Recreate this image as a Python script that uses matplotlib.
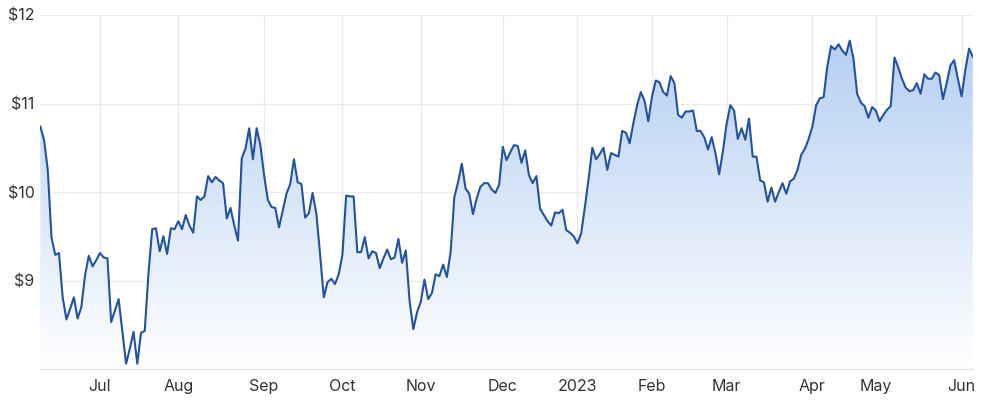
import numpy as np
import matplotlib.pyplot as plt

# daily closing prices (trading days)
prices = [
    10.74, 10.59, 10.25, 9.49, 9.29, 9.31, 8.81, 8.56, 8.68, 8.81,
    8.57, 8.70, 9.06, 9.28, 9.16, 9.23, 9.31, 9.26, 9.25, 8.53,
    8.66, 8.79, 8.43, 8.06, 8.23, 8.42, 8.06, 8.41, 8.43, 9.08,
    9.58, 9.59, 9.33, 9.50, 9.30, 9.59, 9.58, 9.67, 9.58, 9.74,
    9.62, 9.54, 9.95, 9.91, 9.95, 10.18, 10.11, 10.17, 10.13, 10.10,
    9.70, 9.82, 9.62, 9.45, 10.38, 10.49, 10.72, 10.37, 10.72, 10.53,
    10.19, 9.91, 9.83, 9.82, 9.60, 9.79, 9.98, 10.09, 10.37, 10.11,
    10.09, 9.71, 9.76, 9.99, 9.76, 9.30, 8.81, 8.98, 9.02, 8.96,
    9.07, 9.29, 9.96, 9.95, 9.95, 9.32, 9.32, 9.49, 9.25, 9.33,
    9.31, 9.14, 9.25, 9.35, 9.24, 9.26, 9.47, 9.20, 9.34, 8.77,
    8.45, 8.64, 8.76, 9.01, 8.79, 8.86, 9.07, 9.05, 9.18, 9.04,
    9.32, 9.94, 10.11, 10.32, 10.04, 9.98, 9.75, 9.93, 10.06, 10.10,
    10.10, 10.03, 9.99, 10.08, 10.51, 10.36, 10.45, 10.53, 10.52, 10.33,
    10.47, 10.19, 10.10, 10.18, 9.81, 9.74, 9.67, 9.62, 9.77, 9.76,
    9.80, 9.57, 9.54, 9.50, 9.42, 9.53, 9.83, 10.15, 10.50, 10.37,
    10.43, 10.50, 10.25, 10.44, 10.42, 10.40, 10.69, 10.67, 10.55, 10.78,
    10.98, 11.13, 11.03, 10.80, 11.08, 11.26, 11.24, 11.13, 11.09, 11.31,
    11.23, 10.87, 10.84, 10.91, 10.91, 10.92, 10.69, 10.69, 10.62, 10.48,
    10.62, 10.44, 10.20, 10.46, 10.77, 10.98, 10.92, 10.60, 10.72, 10.59,
    10.83, 10.40, 10.40, 10.13, 10.11, 9.89, 10.05, 9.89, 10.00, 10.10,
    9.98, 10.12, 10.15, 10.25, 10.42, 10.49, 10.60, 10.74, 10.98, 11.06,
    11.07, 11.42, 11.65, 11.61, 11.67, 11.60, 11.55, 11.71, 11.51, 11.11,
    11.01, 10.97, 10.84, 10.96, 10.92, 10.80, 10.87, 10.93, 10.97, 11.52,
    11.41, 11.28, 11.18, 11.14, 11.15, 11.23, 11.11, 11.33, 11.28, 11.28,
    11.35, 11.32, 11.05, 11.23, 11.43, 11.49, 11.28, 11.08, 11.38, 11.62,
    11.53,
]

# first trading day of each month (index into prices)
month_labels = ["Jul", "Aug", "Sep", "Oct", "Nov", "Dec", "2023",
                "Feb", "Mar", "Apr", "May", "Jun"]
month_start = [16, 37, 60, 81, 102, 124, 144, 164, 184, 207, 224, 247]

y_ticks = [9, 10, 11, 12]

plt.rcParams['font.family'] = ['Inter', 'DejaVu Sans']

fig = plt.figure(figsize=(10, 4.04), dpi=100)
ax = fig.add_axes([0.0403, 35 / 404, 0.9325, 354 / 404])

x = np.arange(len(prices))
ymin, ymax = 8, 12

# gradient area under the line
poly = ax.fill_between(x, prices, ymin, facecolor='none', edgecolor='none')
top = np.array([0.69, 0.80, 0.95])
bot = np.array([1.0, 1.0, 1.0])
t = np.linspace(0, 1, 256)[:, None]
rgb = bot + (top - bot) * t
img = np.dstack([rgb[:, 0:1], rgb[:, 1:2], rgb[:, 2:3]])
im = ax.imshow(img, extent=[0, len(prices) - 1, ymin, ymax], origin='lower',
               aspect='auto', zorder=1, interpolation='bilinear')
im.set_clip_path(poly.get_paths()[0], transform=ax.transData)

ax.plot(x, prices, color='#2352a0', lw=1.5, zorder=3)

ax.set_xlim(0, len(prices) - 1)
ax.set_ylim(ymin, ymax)
ax.set_xticks(month_start)
ax.set_xticklabels(month_labels)
ax.set_yticks(y_ticks)
ax.set_yticklabels(["$%d" % v for v in y_ticks])

ax.grid(True, color='#ebebeb', lw=1)
ax.set_axisbelow(True)
for s in ['top', 'right', 'left']:
    ax.spines[s].set_visible(False)
ax.spines['bottom'].set_color('#e0e0e0')
ax.tick_params(length=0, labelsize=11.5, colors='#333333')
ax.tick_params(axis='x', pad=7)
ax.tick_params(axis='y', pad=4)

fig.savefig('out.png', dpi=100)
